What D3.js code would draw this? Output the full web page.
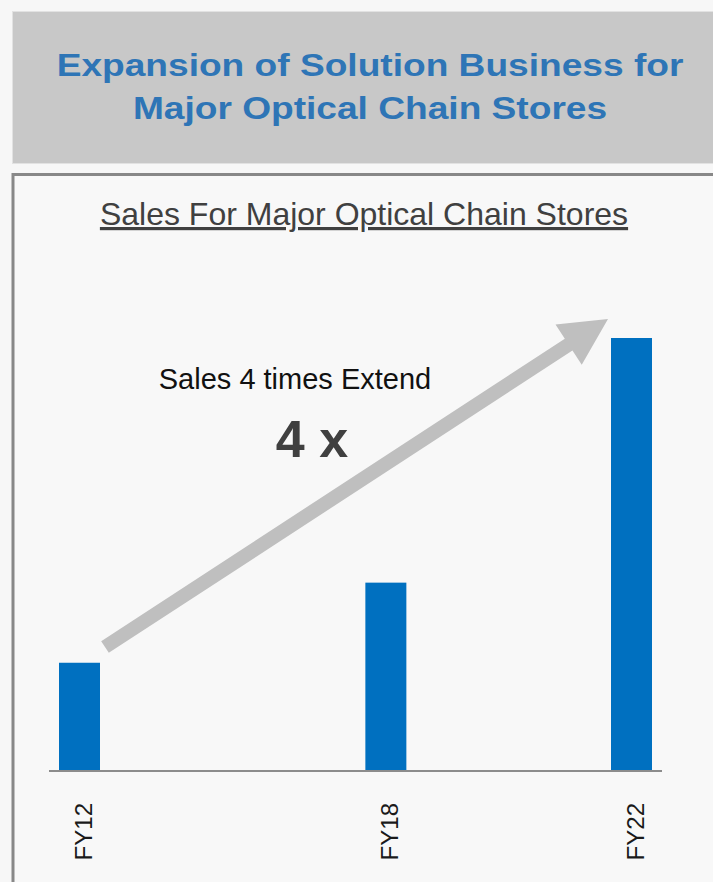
<!DOCTYPE html>
<html>
<head>
<meta charset="utf-8">
<script src="https://cdn.jsdelivr.net/npm/d3@7"></script>
<style>
  html, body { margin: 0; padding: 0; background: #f7f7f7; }
  svg { display: block; }
</style>
</head>
<body>
<svg id="chart" width="713" height="882"></svg>
<script>
// data (relative sales, FY12 = 1)
const categories = ["FY12", "FY18", "FY22"];
const sales = [1.0, 1.74, 4.0];
const titleLines = ["Expansion of Solution Business for", "Major Optical Chain Stores"];
const subtitle = "Sales For Major Optical Chain Stores";
const noteText = "Sales 4 times Extend";
const growthText = "4 x";

const svg = d3.select("#chart");
const font = "Liberation Sans, Arial, sans-serif";

// header box
svg.append("rect")
    .attr("x", 12.5).attr("y", 11.5)
    .attr("width", 720).attr("height", 152)
    .attr("fill", "#c8c8c8")
    .attr("stroke", "#e2e2e2")
    .attr("stroke-width", 1);

// the title glyphs are drawn wider than normal in the original
svg.selectAll("text.title")
    .data(titleLines)
    .enter()
    .append("text")
    .attr("class", "title")
    .attr("transform", (d, i) => "translate(370," + (76 + i * 43) + ") scale(1.16,1)")
    .attr("text-anchor", "middle")
    .attr("font-family", font)
    .attr("font-weight", "bold")
    .attr("font-size", "32px")
    .attr("fill", "#2e75b6")
    .text(d => d);

// chart panel
svg.append("rect")
    .attr("x", 13).attr("y", 174.5)
    .attr("width", 720).attr("height", 720)
    .attr("fill", "#f8f8f8")
    .attr("stroke", "#888888")
    .attr("stroke-width", 3);

svg.append("text")
    .attr("x", 364)
    .attr("y", 225)
    .attr("text-anchor", "middle")
    .attr("font-family", font)
    .attr("font-size", "32px")
    .attr("fill", "#404040")
    .attr("text-decoration", "underline")
    .text(subtitle);

// scales
const axisLeft = 49, axisRight = 662, base = 771;
const x = d3.scaleLinear()
    .domain([0, 1])
    .range([79.5, 631.5]);
// FY18 sits nearer FY22 in the original layout (position along the axis)
const catPos = [0, 0.555, 1];
const barW = 41;
const y = d3.scaleLinear()
    .domain([0, 4.0])
    .range([base, 338]);

const canvas = svg.append("g");

canvas.selectAll("rect.bar")
    .data(categories)
    .enter()
    .append("rect")
    .attr("class", "bar")
    .attr("x", (d, i) => x(catPos[i]) - barW / 2)
    .attr("y", (d, i) => y(sales[i]))
    .attr("width", barW)
    .attr("height", (d, i) => y(0) - y(sales[i]))
    .attr("fill", "#0070c0");

canvas.append("line")
    .attr("x1", axisLeft).attr("x2", axisRight)
    .attr("y1", base).attr("y2", base)
    .attr("stroke", "#8c8c8c")
    .attr("stroke-width", 2);

canvas.selectAll("text.cat")
    .data(categories)
    .enter()
    .append("text")
    .attr("class", "cat")
    .attr("text-anchor", "end")
    .attr("font-family", font)
    .attr("font-size", "24px")
    .attr("fill", "#1a1a1a")
    .attr("transform", (d, i) => "translate(" + (x(catPos[i]) + 12) + ",803) rotate(-90)")
    .text(d => d);

// growth arrow
const start = [105, 647], tip = [608, 319];
const ang = Math.atan2(tip[1] - start[1], tip[0] - start[0]);
const len = Math.hypot(tip[0] - start[0], tip[1] - start[1]);
const shaftW = 14, headW = 48, headL = 47;
const arrowPts = [
    [0, -shaftW / 2], [len - headL, -shaftW / 2], [len - headL, -headW / 2],
    [len, 0],
    [len - headL, headW / 2], [len - headL, shaftW / 2], [0, shaftW / 2]
];
svg.append("path")
    .attr("d", d3.line()(arrowPts) + "Z")
    .attr("fill", "#bfbfbf")
    .attr("transform", "translate(" + start[0] + "," + start[1] + ") rotate(" + (ang * 180 / Math.PI) + ")");

svg.append("text")
    .attr("x", 295)
    .attr("y", 389)
    .attr("text-anchor", "middle")
    .attr("font-family", font)
    .attr("font-size", "29px")
    .attr("fill", "#111111")
    .text(noteText);

svg.append("text")
    .attr("x", 312)
    .attr("y", 457)
    .attr("text-anchor", "middle")
    .attr("font-family", font)
    .attr("font-weight", "bold")
    .attr("font-size", "52px")
    .attr("fill", "#404040")
    .text(growthText);
</script>
</body>
</html>
